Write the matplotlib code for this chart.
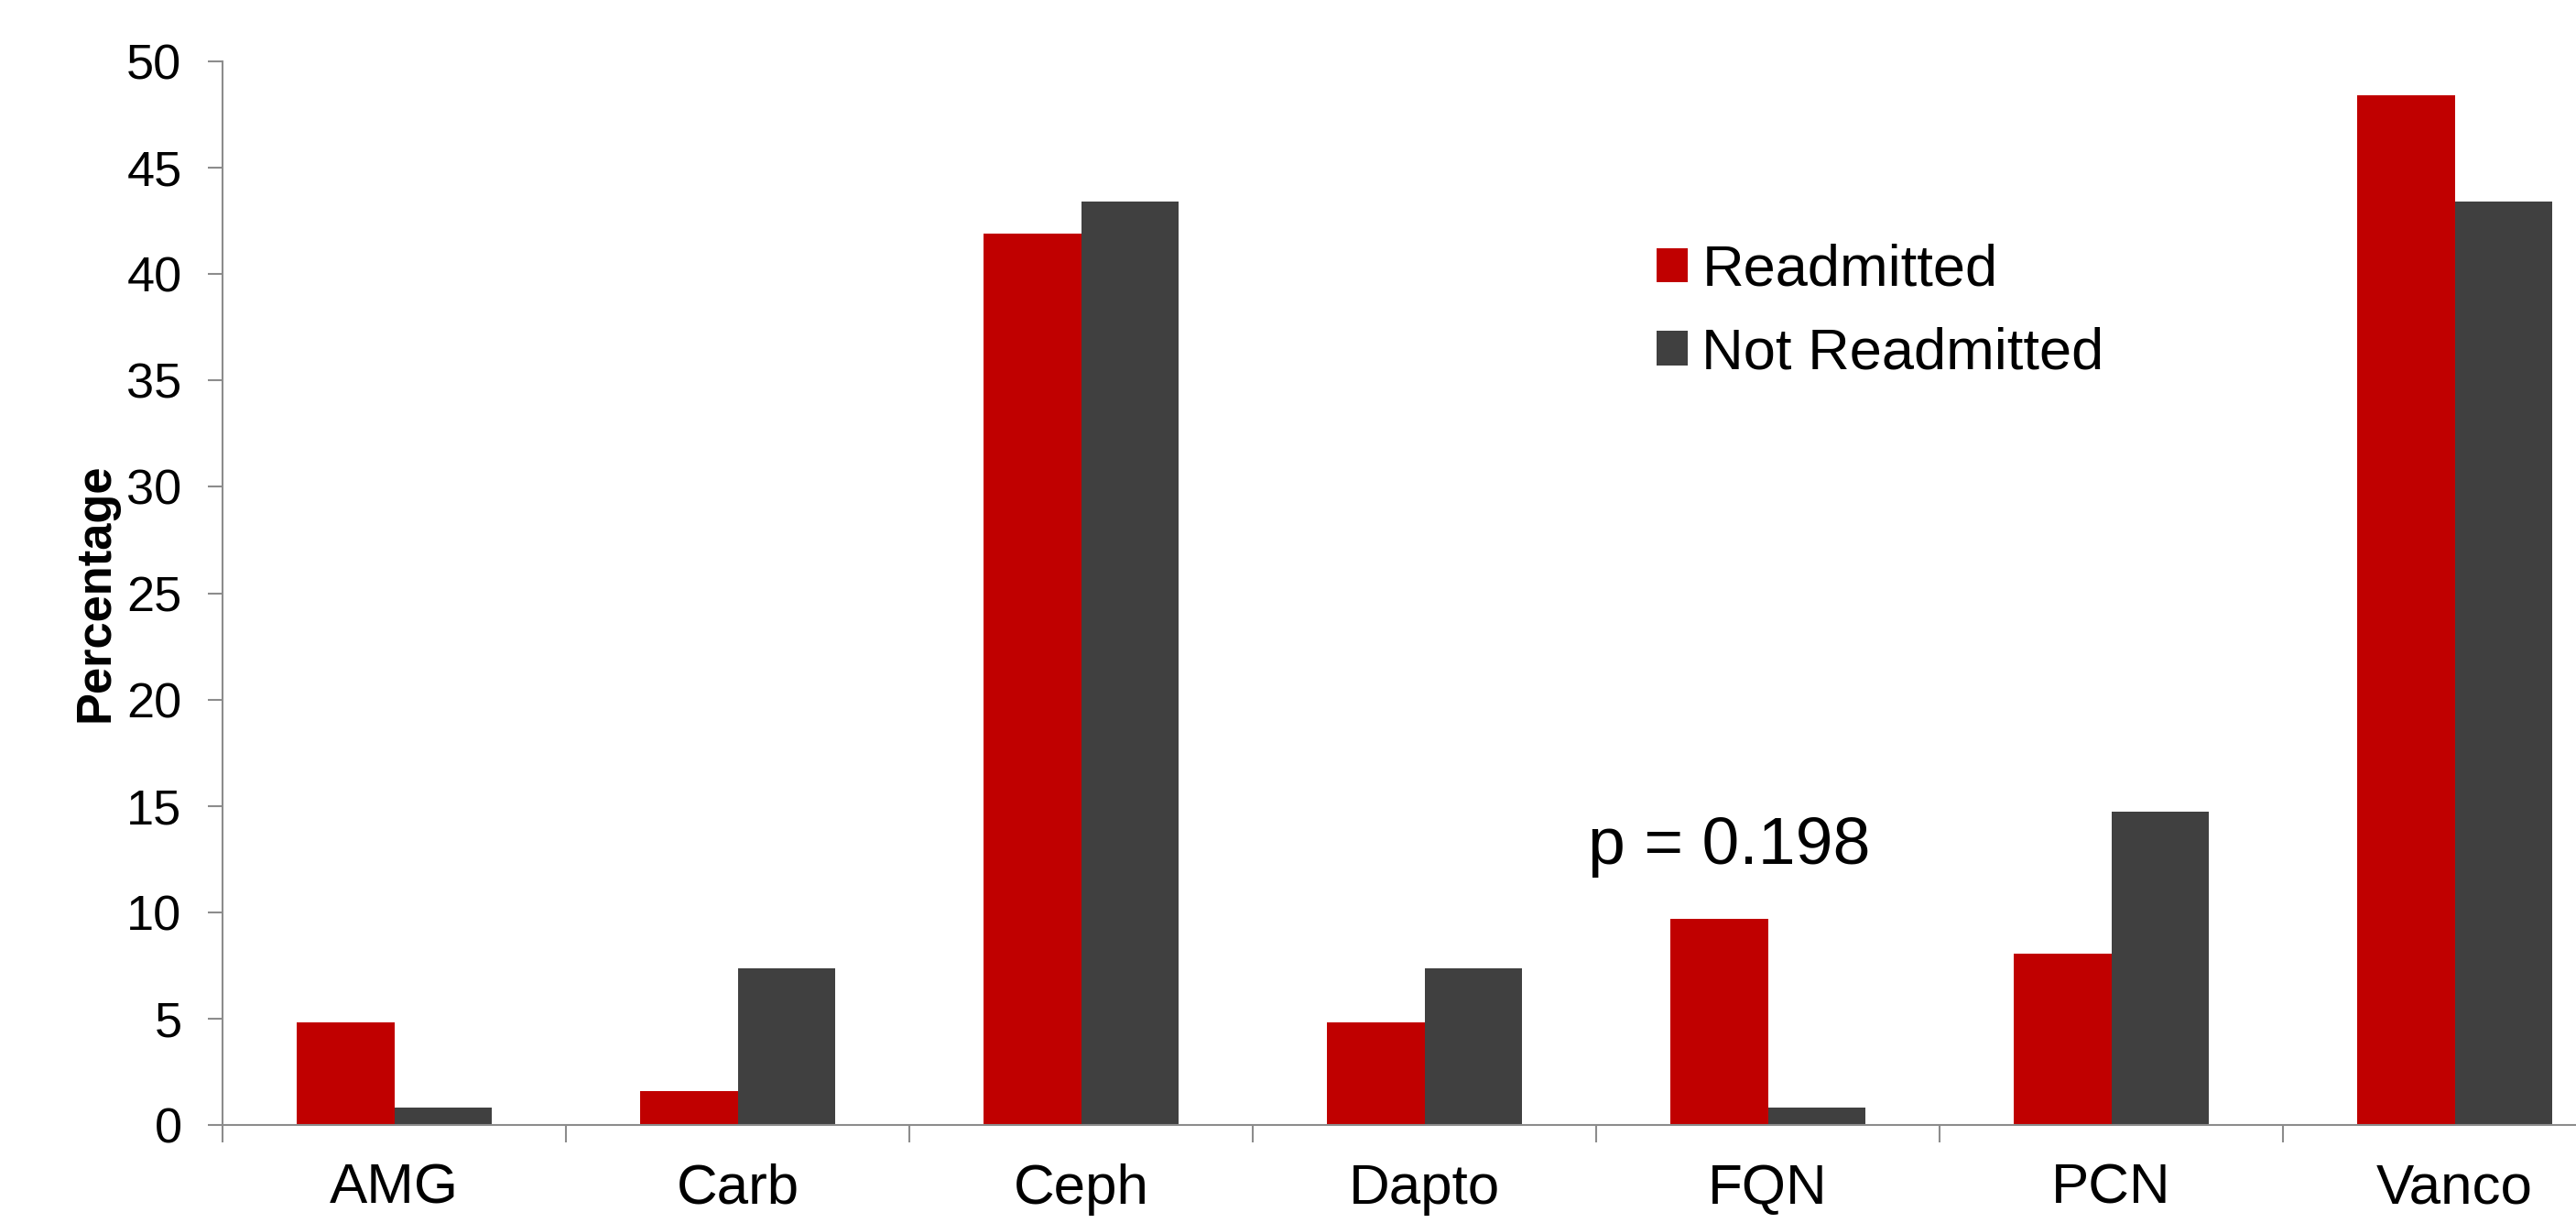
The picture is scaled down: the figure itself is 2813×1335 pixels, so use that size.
import matplotlib
matplotlib.use("Agg")
import matplotlib.pyplot as plt
import numpy as np
from matplotlib.patches import Patch

categories = ["AMG", "Carb", "Ceph", "Dapto", "FQN", "PCN", "Vanco"]
readmitted = [4.84, 1.61, 41.9, 4.84, 9.68, 8.06, 48.4]
not_readmitted = [0.82, 7.38, 43.4, 7.38, 0.82, 14.75, 43.4]
series_names = ["Readmitted", "Not Readmitted"]
yticks = [0, 5, 10, 15, 20, 25, 30, 35, 40, 45, 50]
p_text = "p = 0.198"

plt.rcParams['font.family'] = ['Liberation Sans', 'DejaVu Sans']

W, H = 2813, 1335
fig = plt.figure(figsize=(W / 100, H / 100), dpi=100)
ax = fig.add_axes([243 / W, (H - 1228) / H, 2625 / W, (1228 - 67) / H])

red = "#C00000"
gray = "#404040"
axcol = "#8C8C8C"

x = np.arange(len(categories))
bw = 0.285
ax.bar(x - bw / 2, readmitted, width=bw, color=red, label=series_names[0], zorder=2)
ax.bar(x + bw / 2, not_readmitted, width=bw, color=gray, label=series_names[1], zorder=2)

ax.set_xlim(-0.5, len(categories) - 0.5)
ax.set_ylim(0, 50)
ax.set_yticks(yticks)
ax.set_yticklabels([str(v) for v in yticks])

ax.set_xticks(np.arange(len(categories) + 1) - 0.5)
ax.set_xticklabels([])
ax.set_xticks(x, minor=True)
ax.set_xticklabels(categories, minor=True)

for s in ["top", "right"]:
    ax.spines[s].set_visible(False)
for s in ["left", "bottom"]:
    ax.spines[s].set_color(axcol)
    ax.spines[s].set_linewidth(1.5)
    ax.spines[s].set_zorder(3)

ax.tick_params(axis="y", which="major", direction="out", length=11.5, width=1.5,
               color=axcol, labelsize=39, pad=20.5, labelcolor="black")
ax.tick_params(axis="x", which="major", direction="out", length=13.7, width=1.5,
               color=axcol)
ax.tick_params(axis="x", which="minor", length=0, labelsize=44.6, pad=30,
               labelcolor="black")

fig.text(105 / W, (H - 646.5) / H, "Percentage", rotation=90, ha="center",
         va="center", fontsize=37.8, fontweight="bold")

ax.text(3.475, 12.27, p_text, fontsize=52.8, ha="left", va="baseline")

handles = [Patch(facecolor=red, edgecolor="none"), Patch(facecolor=gray, edgecolor="none")]
fig.legend(handles, series_names, loc="upper left",
           bbox_to_anchor=(1809 / W, (H - 266) / H), bbox_transform=fig.transFigure,
           frameon=False, fontsize=45.5, handlelength=0.54, handleheight=0.54,
           handletextpad=0.24, labelspacing=0.5, borderpad=0, borderaxespad=0)

fig.savefig("out.png", dpi=100)
